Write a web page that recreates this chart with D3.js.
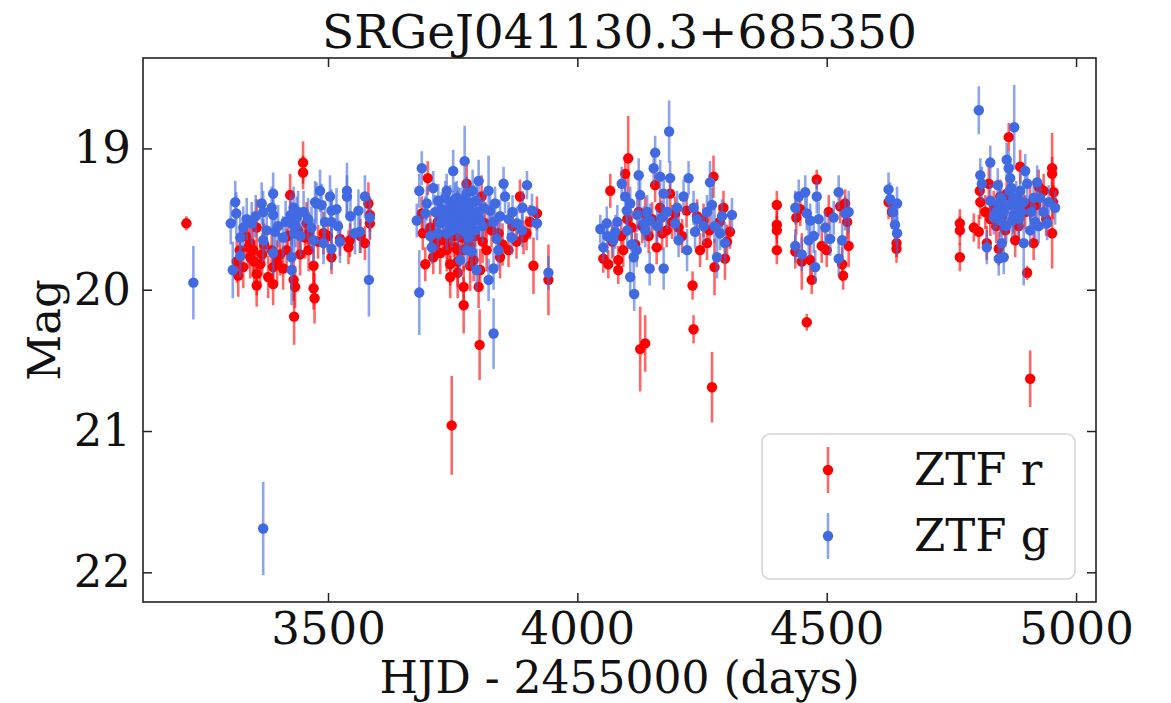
<!DOCTYPE html>
<html><head><meta charset="utf-8">
<script src="https://cdn.jsdelivr.net/npm/d3@7"></script>
<style>
html,body{margin:0;padding:0;background:#fff;}
svg{display:block;font-family:"DejaVu Serif",serif;}
</style></head>
<body><svg id="c" width="1171" height="703"></svg>
<script>
// ---------- DATA ----------
const title = "SRGeJ041130.3+685350";
const xLabel = "HJD - 2455000 (days)";
const yLabel = "Mag";
const xTicks = [3500, 4000, 4500, 5000];
const yTicks = [19, 20, 21, 22];
const seriesNames = ["ZTF r", "ZTF g"];

// ZTF r: day, mag, err
const rDay = [3216,3317,3323,3344,3357,3364,3357,3357,3387,3390,3390,3380,3424,3431,3434,3432,3450,3450,3457,3454,3461,3471,3471,3473,3491,3507,3524,3541,3544,3574,3581,3584,3584,3330,3344,3350,3404,3444,3417,
3335,3340,3352,3368,3372,3398,3410,3420,3440,3462,3480,3500,3565,3320,
3700,3688,3695,3711,3721,3738,3745,3745,3768,3772,3772,3772,3748,3804,3802,3805,3815,3792,3761,3778,3808,3842,3862,3885,3892,3919,3912,3942,3705,3731,3755,3818,3845,
3715,3725,3740,3752,3760,3782,3795,3810,3828,3850,3870,3878,3898,3905,3760,3785,3720,3690,
4102,4096,4066,4052,4062,4082,4092,4109,4123,4126,4136,4156,4159,4166,4186,4196,4203,4219,4231,4233,4246,4253,4270,4273,4275,4293,4296,4306,4136,4143,4179,4082,4116,4260,
4070,4088,4100,4130,4150,4170,4190,4210,4240,4265,4285,4300,
4400,4400,4400,4400,4439,4437,4450,4460,4467,4470,4480,4490,4500,4504,4527,4531,4533,4537,4541,4544,4447,
4624,4631,4640,4640,4767,4767,4767,4795,4805,4807,4808,4821,4825,4828,4845,4858,4865,4861,4878,4888,4892,4902,4908,4915,4925,4935,4952,4952,4955,4954,4952,4908,4875,4835,4848,
4818,4840,4852,4870,4885,4898,4920,4940];
const rMag = [19.53,19.80,19.72,19.67,19.56,19.82,19.89,19.97,19.72,19.84,19.96,19.91,19.33,19.93,19.98,20.19,19.10,19.17,19.53,19.63,19.72,19.83,19.99,20.06,19.60,19.77,19.64,19.70,19.65,19.67,19.39,19.47,19.53,19.84,19.77,19.72,19.75,19.75,19.72,
19.62,19.70,19.80,19.75,19.68,19.80,19.85,19.62,19.58,19.60,19.66,19.62,19.62,19.90,
19.21,19.46,19.82,19.77,19.63,19.72,19.82,19.91,19.63,19.72,19.98,20.11,20.96,20.39,19.98,19.86,19.53,19.79,19.72,19.25,19.34,19.60,19.72,19.34,19.63,19.46,19.83,19.93,19.56,19.65,19.70,19.72,19.77,
19.68,19.74,19.66,19.62,19.80,19.68,19.62,19.66,19.58,19.68,19.55,19.66,19.60,19.52,19.88,19.83,19.52,19.60,
19.07,19.18,19.30,19.78,19.82,19.86,19.72,19.56,19.45,20.42,20.38,19.26,19.70,19.42,19.32,19.46,19.56,19.44,19.97,20.28,19.72,19.51,20.69,19.20,19.84,19.42,19.78,19.59,19.46,19.62,19.58,19.79,19.68,19.67,
19.66,19.62,19.50,19.55,19.50,19.60,19.52,19.62,19.48,19.58,19.52,19.66,
19.40,19.54,19.58,19.72,19.49,19.73,19.80,20.23,19.79,19.93,19.22,19.69,19.72,19.45,19.41,19.82,19.90,19.39,19.52,19.69,19.43,
19.38,19.45,19.67,19.71,19.53,19.58,19.77,19.56,19.59,19.30,19.38,19.67,19.25,19.50,19.71,19.58,18.92,19.32,19.65,19.13,19.41,19.88,20.63,19.67,19.27,19.30,19.14,19.18,19.31,19.38,19.60,19.39,19.49,19.42,19.34,
19.45,19.55,19.48,19.35,19.55,19.45,19.40,19.50];
const rErr = [0.05,0.15,0.15,0.15,0.2,0.15,0.15,0.15,0.15,0.15,0.15,0.15,0.15,0.15,0.15,0.2,0.15,0.12,0.15,0.15,0.15,0.15,0.15,0.18,0.15,0.12,0.12,0.12,0.12,0.12,0.15,0.12,0.12,0.15,0.15,0.15,0.15,0.15,0.15,
0.15,0.15,0.15,0.15,0.15,0.15,0.15,0.15,0.15,0.15,0.12,0.12,0.12,0.15,
0.12,0.12,0.12,0.12,0.12,0.15,0.15,0.15,0.15,0.15,0.15,0.2,0.35,0.25,0.15,0.15,0.15,0.15,0.15,0.15,0.15,0.15,0.12,0.12,0.12,0.12,0.2,0.25,0.12,0.12,0.15,0.15,0.15,
0.12,0.15,0.15,0.15,0.18,0.15,0.15,0.15,0.12,0.15,0.12,0.12,0.12,0.12,0.18,0.18,0.12,0.12,
0.3,0.12,0.12,0.1,0.1,0.1,0.12,0.12,0.12,0.3,0.2,0.12,0.12,0.12,0.12,0.12,0.12,0.12,0.1,0.1,0.12,0.12,0.25,0.15,0.2,0.12,0.15,0.12,0.12,0.12,0.12,0.1,0.12,0.12,
0.12,0.12,0.12,0.12,0.12,0.12,0.12,0.12,0.12,0.12,0.12,0.12,
0.1,0.1,0.1,0.1,0.12,0.12,0.2,0.06,0.15,0.1,0.07,0.12,0.12,0.12,0.12,0.12,0.1,0.1,0.12,0.15,0.12,
0.12,0.12,0.1,0.1,0.1,0.1,0.1,0.1,0.12,0.12,0.12,0.12,0.12,0.12,0.12,0.12,0.1,0.12,0.12,0.12,0.12,0.05,0.2,0.12,0.12,0.12,0.25,0.12,0.12,0.12,0.25,0.12,0.12,0.12,0.12,
0.12,0.12,0.12,0.12,0.12,0.12,0.12,0.12];

// ZTF g: day, mag, err
const gDay = [3230,3309,3314,3316,3305,3337,3347,3367,3370,3387,3390,3390,3394,3377,3431,3427,3437,3432,3451,3474,3484,3477,3487,3504,3507,3517,3507,3494,3538,3538,3561,3574,3584,3564,3554,3524,3507,3491,3471,3467,3427,3410,3370,3324,3324,3390,3582,3427,3370,
3435,3440,3425,3445,3415,3355,3330,3400,3460,3520,3545,
3683,3688,3683,3678,3695,3698,3711,3705,3708,3721,3738,3731,3751,3751,3765,3774,3758,3772,3778,3785,3792,3802,3798,3805,3812,3795,3782,3765,3788,3778,3798,3822,3825,3835,3832,3838,3842,3832,3822,3832,3852,3855,3862,3868,3879,3889,3899,3909,3919,3942,3738,3748,3725,3741,3755,3761,3748,3768,3745,3782,3735,3728,3758,3785,3795,3775,
3740,3745,3750,3760,3765,3770,3775,3780,3785,3790,3755,3735,3770,3790,3760,3800,3715,3720,3810,3845,3870,3890,
4046,4052,4059,4076,4089,4096,4099,4106,4109,4113,4106,4114,4123,4126,4133,4119,4145,4156,4153,4166,4169,4173,4173,4184,4186,4196,4203,4213,4223,4220,4233,4236,4253,4266,4270,4280,4286,4296,4310,4146,4136,4072,
4060,4080,4100,4120,4140,4160,4180,4200,4240,4260,4275,4290,
4437,4437,4444,4457,4460,4467,4464,4450,4477,4480,4484,4497,4507,4514,4524,4524,4531,4537,4544,4474,
4624,4627,4633,4641,4637,4641,4805,4876,4808,4811,4828,4821,4843,4845,4848,4845,4855,4851,4861,4865,4868,4867,4875,4882,4888,4898,4895,4902,4908,4922,4918,4928,4935,4942,4958,4835,4858,4872,4828,
4840,4850,4855,4860,4865,4870,4875,4880,4885,4890,4895,4910,4915,4925,4945];
const gMag = [19.95,19.86,19.38,19.46,19.53,19.50,19.53,19.39,19.45,19.42,19.32,19.47,19.59,19.58,19.42,19.53,19.49,19.60,19.45,19.38,19.30,19.39,19.40,19.34,19.44,19.43,19.52,19.52,19.30,19.34,19.44,19.34,19.49,19.59,19.60,19.66,19.71,19.67,19.65,19.56,19.77,19.63,19.65,19.76,19.63,19.74,19.93,19.86,21.69,
19.55,19.45,19.47,19.62,19.52,19.48,19.56,19.55,19.50,19.55,19.48,
20.02,19.14,19.30,19.51,19.46,19.39,19.28,19.62,19.70,19.37,19.30,19.49,19.16,19.42,19.53,19.09,19.35,19.44,19.32,19.49,19.38,19.23,19.37,19.51,19.42,19.58,19.63,19.79,19.73,19.72,19.86,19.30,19.44,19.39,19.52,19.64,19.72,19.85,19.93,20.31,19.25,19.34,19.50,19.63,19.53,19.58,19.26,19.44,19.53,19.88,19.60,19.58,19.53,19.44,19.47,19.39,19.50,19.49,19.38,19.42,19.35,19.43,19.52,19.54,19.46,19.59,
19.47,19.55,19.50,19.45,19.40,19.52,19.48,19.38,19.45,19.52,19.36,19.52,19.36,19.30,19.56,19.45,19.45,19.60,19.55,19.48,19.45,19.42,
19.57,19.70,19.53,19.59,19.25,19.34,19.44,19.39,19.68,19.77,19.91,20.03,19.19,19.33,19.53,19.72,19.85,19.03,19.14,19.20,19.49,19.32,19.85,18.88,19.21,19.53,19.65,19.34,19.21,19.72,19.42,19.59,19.55,19.24,19.40,19.77,19.60,19.67,19.47,19.51,19.58,19.65,
19.62,19.52,19.58,19.47,19.45,19.55,19.45,19.42,19.50,19.45,19.55,19.48,
19.42,19.69,19.34,19.31,19.46,19.51,19.65,19.75,19.84,19.34,19.50,19.56,19.64,19.49,19.31,19.78,19.65,19.46,19.45,19.62,
19.29,19.36,19.45,19.39,19.54,19.60,18.73,18.85,19.19,19.25,19.10,19.70,19.26,19.39,19.51,19.78,19.77,19.67,19.08,19.14,19.21,19.30,19.37,19.41,19.30,19.16,19.67,19.25,19.58,19.24,19.52,19.35,19.45,19.53,19.42,19.49,19.41,19.51,19.37,
19.45,19.35,19.45,19.55,19.40,19.28,19.47,19.35,19.50,19.45,19.38,19.45,19.35,19.55,19.38];
const gErr = [0.26,0.2,0.15,0.15,0.15,0.15,0.15,0.15,0.15,0.15,0.15,0.15,0.15,0.15,0.15,0.15,0.15,0.15,0.15,0.15,0.15,0.15,0.15,0.15,0.15,0.15,0.15,0.15,0.2,0.15,0.15,0.15,0.15,0.15,0.15,0.15,0.15,0.15,0.15,0.15,0.15,0.15,0.15,0.15,0.15,0.15,0.26,0.25,0.33,
0.15,0.15,0.15,0.15,0.15,0.15,0.15,0.15,0.15,0.15,0.15,
0.3,0.12,0.12,0.12,0.12,0.12,0.12,0.12,0.12,0.12,0.12,0.12,0.15,0.12,0.12,0.25,0.12,0.12,0.12,0.12,0.12,0.15,0.12,0.12,0.12,0.12,0.12,0.12,0.12,0.12,0.15,0.25,0.12,0.12,0.12,0.12,0.12,0.15,0.15,0.25,0.12,0.12,0.12,0.12,0.12,0.12,0.1,0.12,0.12,0.12,0.12,0.12,0.12,0.12,0.12,0.12,0.12,0.12,0.12,0.12,0.12,0.12,0.12,0.12,0.12,0.12,
0.12,0.12,0.12,0.15,0.12,0.12,0.12,0.15,0.12,0.12,0.12,0.12,0.12,0.15,0.12,0.12,0.12,0.12,0.12,0.12,0.12,0.12,
0.1,0.1,0.12,0.12,0.12,0.12,0.12,0.12,0.12,0.12,0.12,0.12,0.12,0.12,0.12,0.12,0.12,0.12,0.12,0.12,0.12,0.12,0.15,0.22,0.12,0.12,0.12,0.12,0.12,0.15,0.12,0.12,0.12,0.15,0.12,0.15,0.12,0.15,0.12,0.12,0.12,0.12,
0.12,0.12,0.12,0.12,0.12,0.12,0.12,0.12,0.12,0.12,0.12,0.12,
0.12,0.12,0.12,0.12,0.12,0.12,0.12,0.12,0.12,0.12,0.12,0.12,0.12,0.12,0.12,0.12,0.12,0.12,0.15,0.12,
0.12,0.12,0.12,0.12,0.12,0.15,0.17,0.3,0.12,0.12,0.12,0.12,0.12,0.12,0.12,0.12,0.12,0.12,0.12,0.12,0.12,0.12,0.12,0.12,0.12,0.12,0.3,0.12,0.12,0.12,0.12,0.12,0.12,0.12,0.12,0.12,0.12,0.12,0.12,
0.12,0.12,0.12,0.12,0.12,0.12,0.12,0.12,0.12,0.12,0.12,0.12,0.12,0.12,0.12];

// ---------- CHART ----------
const svg = d3.select("#c");
const L = 143, R = 1096, T = 58, B = 602;
const x = d3.scaleLinear().domain([3129, 5040]).range([L, R]);
const y = d3.scaleLinear().domain([18.36, 22.21]).range([T, B]);
const colors = {r: "#ff0000", g: "#4169e1"};
const ink = "#222";
const markR = 5.2;

function series(days, mags, errs, color) {
  const g = svg.append("g");
  const data = days.map((d, i) => ({d, m: mags[i], e: errs[i]}));
  g.selectAll("line").data(data).join("line")
    .attr("x1", p => x(p.d)).attr("x2", p => x(p.d))
    .attr("y1", p => y(p.m - p.e)).attr("y2", p => y(p.m + p.e))
    .attr("stroke", color).attr("stroke-opacity", 0.6).attr("stroke-width", 2.6);
  g.selectAll("circle").data(data).join("circle")
    .attr("cx", p => x(p.d)).attr("cy", p => y(p.m)).attr("r", markR)
    .attr("fill", color);
}
series(rDay, rMag, rErr, colors.r);
series(gDay, gMag, gErr, colors.g);

// axes (inward ticks on all sides)
function styleAxis(sel) {
  sel.select(".domain").remove();
  sel.selectAll(".tick line").attr("stroke", ink).attr("stroke-width", 1.5);
  sel.selectAll(".tick text").attr("fill", "#111").style("font-size", "45px").style("font-family", "DejaVu Serif");
}
svg.append("g").attr("transform", `translate(0,${B})`)
  .call(d3.axisBottom(x).tickValues(xTicks).tickFormat(d3.format("d")).tickSizeInner(-9).tickSizeOuter(0).tickPadding(10))
  .call(styleAxis);
svg.append("g").attr("transform", `translate(0,${T})`)
  .call(d3.axisTop(x).tickValues(xTicks).tickFormat("").tickSizeInner(-9).tickSizeOuter(0))
  .call(styleAxis);
svg.append("g").attr("transform", `translate(${L},0)`)
  .call(d3.axisLeft(y).tickValues(yTicks).tickFormat(d3.format("d")).tickSizeInner(-9).tickSizeOuter(0).tickPadding(12))
  .call(styleAxis);
svg.append("g").attr("transform", `translate(${R},0)`)
  .call(d3.axisRight(y).tickValues(yTicks).tickFormat("").tickSizeInner(-9).tickSizeOuter(0))
  .call(styleAxis);

// frame
svg.append("rect").attr("x", L).attr("y", T).attr("width", R - L).attr("height", B - T)
  .attr("fill", "none").attr("stroke", ink).attr("stroke-width", 1.6);

// title & labels
svg.append("text").attr("x", (L + R) / 2).attr("y", 48).attr("text-anchor", "middle")
  .style("font-size", "47px").attr("fill", "#111").text(title);
svg.append("text").attr("x", (L + R) / 2).attr("y", 693).attr("text-anchor", "middle")
  .style("font-size", "44px").attr("fill", "#111").text(xLabel);
svg.append("text").attr("transform", `translate(60,${(T + B) / 2}) rotate(-90)`).attr("text-anchor", "middle")
  .style("font-size", "45px").attr("fill", "#111").text(yLabel);

// legend
const lg = svg.append("g");
lg.append("rect").attr("x", 762).attr("y", 434).attr("width", 313).attr("height", 145).attr("rx", 8)
  .attr("fill", "#fff").attr("fill-opacity", 0.85).attr("stroke", "#d4d4d4").attr("stroke-width", 1.5);
const legItems = [{name: seriesNames[0], c: colors.r, cy: 470}, {name: seriesNames[1], c: colors.g, cy: 536}];
legItems.forEach(it => {
  lg.append("line").attr("x1", 828).attr("x2", 828).attr("y1", it.cy - 23).attr("y2", it.cy + 23)
    .attr("stroke", it.c).attr("stroke-opacity", 0.6).attr("stroke-width", 2.6);
  lg.append("circle").attr("cx", 828).attr("cy", it.cy).attr("r", markR).attr("fill", it.c);
  lg.append("text").attr("x", 914).attr("y", it.cy + 15).style("font-size", "45px").attr("fill", "#111").text(it.name);
});
</script></body></html>
